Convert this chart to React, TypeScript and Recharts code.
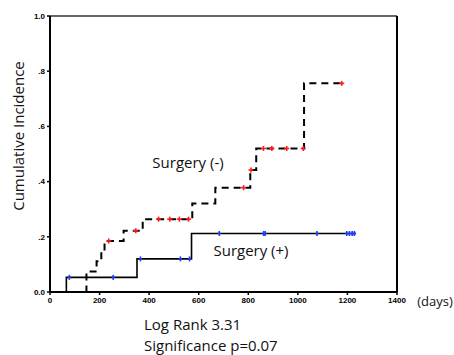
import React from "react";
import {
  ComposedChart,
  Line,
  Scatter,
  XAxis,
  YAxis,
  ReferenceLine,
} from "recharts";

// Surgery (-) : cumulative incidence step curve (days, value)
const noSurgeryDays = [0, 147, 188, 207, 220, 297, 374, 574, 667, 808, 832, 1025, 1180];
const noSurgeryValues = [0, 0.074, 0.111, 0.148, 0.185, 0.222, 0.264, 0.321, 0.378, 0.442, 0.52, 0.756, 0.756];
// Surgery (-) censored observations
const noSurgeryCensorDays = [237, 346, 438, 483, 522, 559, 781, 811, 861, 895, 955, 1022, 1177];
const noSurgeryCensorValues = [0.185, 0.222, 0.264, 0.264, 0.264, 0.264, 0.378, 0.442, 0.52, 0.52, 0.52, 0.52, 0.756];

// Surgery (+) : cumulative incidence step curve
const surgeryDays = [0, 66, 351, 571, 1235];
const surgeryValues = [0, 0.053, 0.12, 0.212, 0.212];
// Surgery (+) censored observations
const surgeryCensorDays = [78, 255, 365, 526, 563, 683, 862, 868, 1077, 1197, 1208, 1219, 1228];
const surgeryCensorValues = [0.053, 0.053, 0.12, 0.12, 0.12, 0.212, 0.212, 0.212, 0.212, 0.212, 0.212, 0.212, 0.212];

const xTicks = [0, 200, 400, 600, 800, 1000, 1200, 1400];
const yTicks = [0, 0.2, 0.4, 0.6, 0.8, 1.0];

const toPoints = (days: number[], vals: number[]) =>
  days.map((d, i) => ({ day: d, v: vals[i] }));

const noSurgeryData = toPoints(noSurgeryDays, noSurgeryValues);
const noSurgeryCensor = toPoints(noSurgeryCensorDays, noSurgeryCensorValues);
const surgeryData = toPoints(surgeryDays, surgeryValues);
const surgeryCensor = toPoints(surgeryCensorDays, surgeryCensorValues);

const yFmt = (v: number) => {
  if (v === 0) return "0.0";
  if (v === 1) return "1.0";
  return "." + Math.round(v * 10);
};

const makePlus = (color: string, w: number, h: number) => (props: any) => {
  const { cx, cy } = props;
  if (cx == null || cy == null) return <g />;
  return (
    <g>
      <line x1={cx - w} y1={cy} x2={cx + w} y2={cy} stroke={color} strokeWidth={1.6} />
      <line x1={cx} y1={cy - h} x2={cx} y2={cy + h} stroke={color} strokeWidth={1.6} />
    </g>
  );
};

const TXT = "'Open Sans', Lato, sans-serif";

const Txt = ({ x, y, size, children, rotate }: any) => (
  <div
    style={{
      position: "absolute",
      left: x,
      top: y,
      transform: `translate(-50%, -50%)${rotate ? ` rotate(${rotate}deg)` : ""}`,
      fontFamily: TXT,
      fontSize: size,
      color: "#111",
      whiteSpace: "nowrap",
      lineHeight: 1,
    }}
  >
    {children}
  </div>
);

const tickStyle = {
  fontSize: 8,
  fontWeight: 700,
  fill: "#000",
  fontFamily: "'Liberation Sans', Arial, sans-serif",
};

export default function App() {
  return (
    <div style={{ position: "absolute", left: 0, top: 0, width: 454, height: 355, background: "#fff" }}>
      <ComposedChart
        width={454}
        height={355}
        margin={{ top: 16, right: 57, bottom: 43, left: 20 }}
      >
        <XAxis
          dataKey="day"
          type="number"
          domain={[0, 1400]}
          ticks={xTicks}
          interval={0}
          axisLine={{ stroke: "#000", strokeWidth: 2 }}
          tickLine={{ stroke: "#000", strokeWidth: 1.5 }}
          tickSize={3}
          tick={tickStyle}
          height={20}
        />
        <YAxis
          dataKey="v"
          type="number"
          domain={[0, 1]}
          ticks={yTicks}
          interval={0}
          tickFormatter={yFmt}
          axisLine={{ stroke: "#000", strokeWidth: 2 }}
          tickLine={{ stroke: "#000", strokeWidth: 1.5 }}
          tickSize={3}
          tick={tickStyle}
          width={30}
        />
        <ReferenceLine y={1} stroke="#333" strokeWidth={1.5} />
        <ReferenceLine x={1400} stroke="#000" strokeWidth={2} />
        <Line
          data={noSurgeryData}
          dataKey="v"
          type="stepAfter"
          stroke="#000"
          strokeWidth={2}
          strokeDasharray="7 5"
          dot={false}
          activeDot={false}
          isAnimationActive={false}
        />
        <Line
          data={surgeryData}
          dataKey="v"
          type="stepAfter"
          stroke="#000"
          strokeWidth={1.6}
          dot={false}
          activeDot={false}
          isAnimationActive={false}
        />
        <Scatter
          data={noSurgeryCensor}
          dataKey="v"
          shape={makePlus("#ff1a1a", 2.5, 2.5)}
          isAnimationActive={false}
        />
        <Scatter
          data={surgeryCensor}
          dataKey="v"
          shape={makePlus("#1a3cff", 1.5, 2.5)}
          isAnimationActive={false}
        />
      </ComposedChart>
      <Txt x={18} y={136} size={15} rotate={-90}>Cumulative Incidence</Txt>
      <Txt x={188} y={162} size={15}>Surgery (-)</Txt>
      <Txt x={251} y={250} size={15}>Surgery (+)</Txt>
      <Txt x={435} y={301} size={13}>(days)</Txt>
      <div style={{ position: "absolute", left: 144, top: 317, fontFamily: TXT, fontSize: 15, color: "#111", lineHeight: 1, whiteSpace: "nowrap" }}>
        Log Rank 3.31
      </div>
      <div style={{ position: "absolute", left: 144, top: 338, fontFamily: TXT, fontSize: 15, color: "#111", lineHeight: 1, whiteSpace: "nowrap" }}>
        Significance p=0.07
      </div>
    </div>
  );
}
